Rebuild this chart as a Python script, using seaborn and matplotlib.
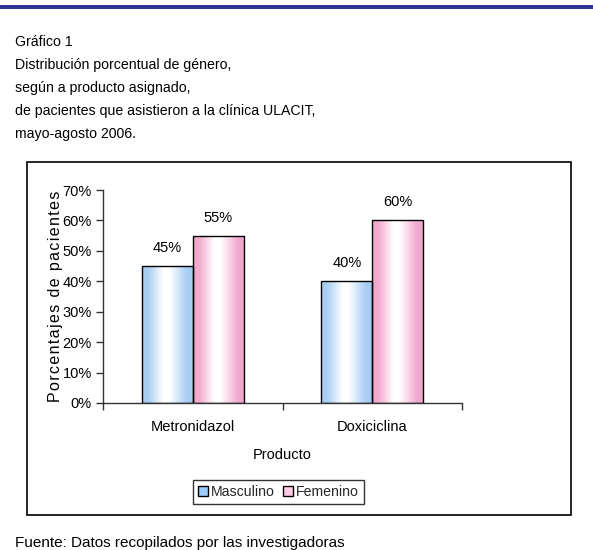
import numpy as np
import pandas as pd
import matplotlib
matplotlib.use("Agg")
import matplotlib.pyplot as plt
import seaborn as sns
from matplotlib.patches import Rectangle, Patch
from matplotlib.colors import to_rgb

# Data
productos = ["Metronidazol", "Doxiciclina"]
sexos = ["Masculino", "Femenino"]
masculino = [45, 40]
femenino = [55, 60]
yticks = [0, 10, 20, 30, 40, 50, 60, 70]

titulo = ["Gráfico 1",
          "Distribución porcentual de género,",
          "según a producto asignado,",
          "de pacientes que asistieron a la clínica ULACIT,",
          "mayo-agosto 2006."]
fuente = "Fuente: Datos recopilados por las investigadoras"
etiqueta_y = "Porcentajes de pacientes"

df = pd.DataFrame({
    "Producto": productos * 2,
    "Sexo": [sexos[0]] * 2 + [sexos[1]] * 2,
    "Porcentaje": masculino + femenino,
})

sns.set_theme(style="white")
plt.rcParams["font.family"] = ["Liberation Sans", "DejaVu Sans"]

fig = plt.figure(figsize=(5.93, 5.5), dpi=100)
W, H = 593, 550
ax = fig.add_axes([103 / W, 1 - 403 / H, (462 - 103) / W, (403 - 190) / H])

colores = {"Masculino": "#99CCFF", "Femenino": "#FF99CC"}
sns.barplot(data=df, x="Producto", y="Porcentaje", hue="Sexo", order=productos,
            hue_order=sexos, palette=colores, width=0.567, edgecolor="black",
            linewidth=1.0, ax=ax, legend=False)

# Horizontal gradient fill inside each bar (colour at edges, white in the middle)
def gradiente(color):
    c = np.array(to_rgb(color))
    t = np.linspace(0, 1, 64)
    pos = [0.0, 0.12, 0.42, 0.54, 0.88, 1.0]
    mix = np.interp(t, pos, [1.0, 0.95, 0.0, 0.0, 0.95, 1.0])
    rgb = 1 - mix[:, None] * (1 - c[None, :])
    return rgb[None, :, :]

for patch in list(ax.patches):
    x, y = patch.get_x(), patch.get_y()
    w, h = patch.get_width(), patch.get_height()
    fc = patch.get_facecolor()
    img = ax.imshow(gradiente(fc[:3]), extent=[x, x + w, y, y + h], aspect="auto",
                    zorder=patch.get_zorder() - 0.1, interpolation="bilinear")
    img.set_clip_path(patch)
    patch.set_facecolor("none")
    ax.annotate(f"{h:.0f}%", (x + w / 2, y + h), xytext=(0, 8),
                textcoords="offset points", ha="center", va="bottom",
                fontsize=10.5, color="black")

ax.set_xlim(-0.5, 1.5)
ax.set_ylim(0, 70)
ax.set_yticks(yticks)
ax.set_yticklabels([f"{v}%" for v in yticks], fontsize=10.5, color="black")
ax.set_xticks([0, 1])
ax.set_xticklabels(productos, fontsize=10.5, color="black")
ax.set_xticks([-0.5, 0.5, 1.5], minor=True)
ax.tick_params(axis="x", which="major", length=0, pad=12)
ax.tick_params(axis="x", which="minor", length=5, width=1, color="#333333", direction="out", bottom=True)
ax.tick_params(axis="y", length=5, width=1, color="#333333", direction="out", left=True, pad=3)
for s in ["top", "right"]:
    ax.spines[s].set_visible(False)
for s in ["left", "bottom"]:
    ax.spines[s].set_color("#333333")
    ax.spines[s].set_linewidth(1)

ax.set_xlabel("Producto", fontsize=10.5, color="black", labelpad=10)
# y label drawn with slightly widened letter spacing
ax.set_ylabel("\u200a".join(etiqueta_y), fontsize=11.5, color="black", labelpad=0)

# Legend
handles = [Patch(facecolor="#99CCFF", edgecolor="black", linewidth=1),
           Patch(facecolor="#FFCCE6", edgecolor="black", linewidth=1)]
leg = fig.legend(handles, sexos, loc="center", bbox_to_anchor=(278.5 / W, 1 - 492 / H),
                 ncol=2, frameon=True, fancybox=False, fontsize=10.2,
                 handlelength=0.7, handleheight=0.7, handletextpad=0.2,
                 columnspacing=0.6, borderpad=0.35, edgecolor="black")
leg.get_frame().set_linewidth(1)

# Chart frame
fig.add_artist(Rectangle((27 / W, 1 - 515 / H), (571 - 27) / W, (515 - 162) / H,
                         transform=fig.transFigure, fill=False, edgecolor="black",
                         linewidth=1.2))

# Header rule
fig.add_artist(Rectangle((0, 1 - 9 / H), 1, 4 / H, transform=fig.transFigure,
                         facecolor="#333399", edgecolor="none"))

# Title block
for i, linea in enumerate(titulo):
    fig.text(15 / W, 1 - (42.5 + i * 22.8) / H, linea, fontsize=10.2, color="black",
             ha="left", va="center")
fig.text(15 / W, 1 - 543 / H, fuente, fontsize=11, color="black", ha="left", va="center")

fig.savefig("out.png", dpi=100)
